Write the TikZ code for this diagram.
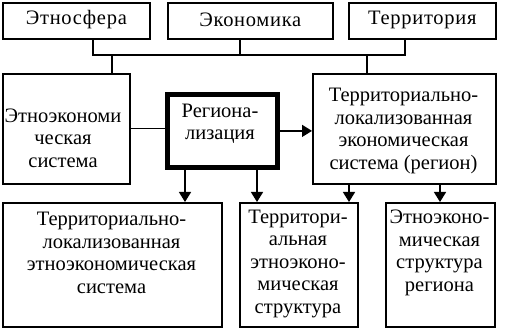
\documentclass[tikz,border=0pt]{standalone}
\usepackage{fontspec}
\setmainfont{Liberation Serif}
\usetikzlibrary{arrows.meta,calc}
\begin{document}
\begin{tikzpicture}[x=1pt,y=-1pt,
  box/.style={draw, line width=1.7pt, inner sep=0pt, anchor=north west},
  heavybox/.style={draw, line width=4.8pt, inner sep=0pt, anchor=north west},
  txt/.style={align=center, font=\fontsize{20.5}{22.5}\selectfont, inner sep=0pt},
  toptxt/.style={txt, font=\fontsize{20.5}{22.5}\selectfont\addfontfeatures{LetterSpace=3.5}},
  conn/.style={line width=1.2pt},
  arr/.style={line width=1.4pt, -{Triangle[length=10pt,width=12pt]}}]
\useasboundingbox (0,0) rectangle (516,328);
% top boxes
\node[box, minimum width=147pt, minimum height=36pt] (A) at (2,2) {};
\node[toptxt] (At) at ($(A.center)+(0,-1)$) {Этносфера};
\node[box, minimum width=165pt, minimum height=36pt] (B) at (167,2) {};
\node[toptxt] (Bt) at ($(B.center)+(0,-1)$) {Экономика};
\node[box, minimum width=147pt, minimum height=36pt] (C) at (348,2) {};
\node[toptxt] (Ct) at ($(C.center)+(0,-1)$) {Территория};
% middle row
\node[box, minimum width=127pt, minimum height=110pt] (L) at (2,73) {};
\node[txt] (Lt) at (63,138) {Этноэкономи\\ческая\\система};
\node[heavybox, minimum width=110pt, minimum height=73pt] (G) at (165,92) {};
\node[txt] (Gt) at (220,124) {Региона-\\лизация};
\node[box, minimum width=183pt, minimum height=110pt] (R) at (312,73) {};
\node[txt] (Rt) at (403.5,131) {Территориально-\\локализованная\\экономическая\\система (регион)};
% bottom row
\node[box, minimum width=219pt, minimum height=124pt] (B1) at (2,202) {};
\node[txt] (B1t) at (111.5,253) {Территориально-\\локализованная\\этноэкономическая\\система};
\node[box, minimum width=118pt, minimum height=124pt] (B2) at (239,202) {};
\node[txt] (B2t) at (298,264) {Территори-\\альная\\этноэконо-\\мическая\\структура};
\node[box, minimum width=109pt, minimum height=124pt] (B3) at (385,202) {};
\node[txt] (B3t) at (439.5,253) {Этноэконо-\\мическая\\структура\\региона};
% bus
\coordinate (busL) at (93,55);
\coordinate (busM) at (240,55);
\coordinate (busR) at (405,55);
\coordinate (upL) at (112,55);
\coordinate (upR) at (367,55);
\draw[conn] (A.south -| busL) -- (busL) -- (busR) -- (C.south -| busR);
\draw[conn] (B.south -| busM) -- (busM);
\draw[conn] (upL) -- (upL |- L.north);
\draw[conn] (upR) -- (upR |- R.north);
% middle connections
\draw[conn] (L.east) -- (L.east -| G.west);
\draw[arr] (G.east) -- (G.east -| R.west);
% down arrows
\coordinate (d1) at ($(G.south west)+(20,0)$);
\coordinate (d2) at ($(G.south west)+(92,0)$);
\coordinate (d3) at ($(R.south west)+(37,0)$);
\coordinate (d4) at ($(R.south west)+(128,0)$);
\draw[arr] (d1) -- (d1 |- B1.north);
\draw[arr] (d2) -- (d2 |- B2.north);
\draw[arr] (d3) -- (d3 |- B2.north);
\draw[arr] (d4) -- (d4 |- B3.north);
\end{tikzpicture}
\end{document}
